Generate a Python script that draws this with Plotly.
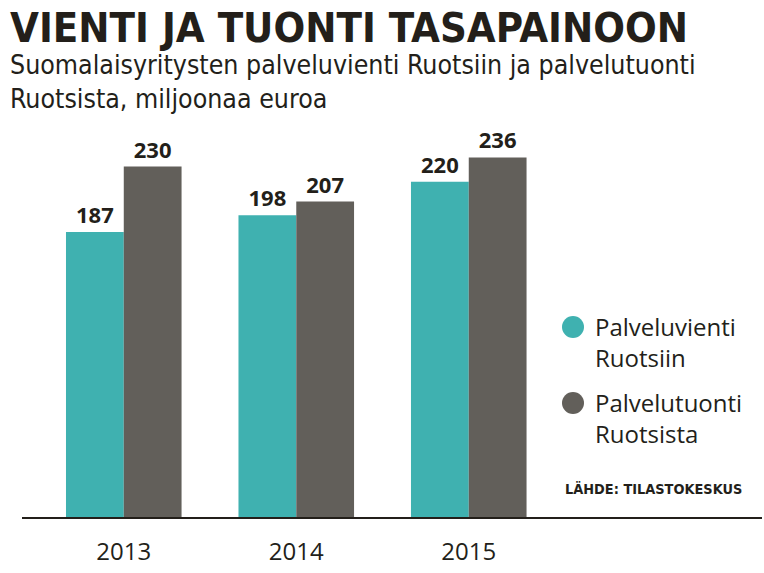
import plotly.graph_objects as go

# data
years = ["2013", "2014", "2015"]
vienti = [187, 198, 220]
tuonti = [230, 207, 236]
series_names = ["Palveluvienti<br>Ruotsiin", "Palvelutuonti<br>Ruotsista"]
series_colors = ["#3fb1b0", "#625f5a"]

title_text = "VIENTI JA TUONTI TASAPAINOON"
subtitle_text = "Suomalaisyritysten palveluvienti Ruotsiin ja palvelutuonti<br>Ruotsista, miljoonaa euroa"
source_text = "LÄHDE: TILASTOKESKUS"

INK = "#231f1a"
W, H = 764, 573
L, R, T, B = 22, 2, 130, 56


def px_x(px):
    # pixel -> paper x
    return (px - L) / (W - L - R)


def px_y(py):
    # pixel -> paper y
    return (H - B - py) / (H - T - B)


fig = go.Figure()

for vals, name, col in zip([vienti, tuonti], series_names, series_colors):
    fig.add_trace(go.Bar(
        x=years, y=vals, name=name.replace("<br>", " "),
        marker=dict(color=col, line=dict(width=0)),
        texttemplate="%{y}", textposition="outside",
        textfont=dict(family="Open Sans", size=22, color=INK, weight="bold"),
        cliponaxis=False, showlegend=False,
    ))

# hand-made legend with big round dots
legend_y = [327, 403]
for name, col, cy in zip(series_names, series_colors, legend_y):
    fig.add_shape(type="circle", xref="paper", yref="paper",
                  x0=px_x(562), x1=px_x(584), y0=px_y(cy + 11), y1=px_y(cy - 11),
                  fillcolor=col, line=dict(width=0))
    fig.add_annotation(x=px_x(593), y=px_y(cy - 19), xref="paper", yref="paper",
                       text=name, showarrow=False, xanchor="left", yanchor="top",
                       align="left",
                       font=dict(family="Open Sans", size=24, color=INK))

fig.add_annotation(x=px_x(8), y=px_y(1), xref="paper", yref="paper",
                   text=title_text, showarrow=False, xanchor="left", yanchor="top",
                   font=dict(family="DejaVu Sans Condensed", size=41.5, color=INK, weight="bold"))
fig.add_annotation(x=px_x(8), y=px_y(47), xref="paper", yref="paper",
                   text=subtitle_text, showarrow=False, xanchor="left", yanchor="top",
                   align="left",
                   font=dict(family="DejaVu Sans Condensed", size=26.5, color=INK))
fig.add_annotation(x=px_x(563), y=px_y(479), xref="paper", yref="paper",
                   text=source_text, showarrow=False, xanchor="left", yanchor="top",
                   font=dict(family="DejaVu Sans Condensed", size=14.4, color=INK, weight="bold"))

fig.update_layout(
    width=W, height=H,
    margin=dict(l=L, r=R, t=T, b=B),
    paper_bgcolor="white", plot_bgcolor="white",
    barmode="group", bargap=0.33, bargroupgap=0,
    showlegend=False,
    xaxis=dict(type="category", range=[-0.59, 3.70], showgrid=False,
               showline=True, linecolor=INK, linewidth=2,
               ticks="outside", ticklen=12, tickcolor="rgba(0,0,0,0)",
               tickfont=dict(family="Open Sans", size=24, color=INK)),
    yaxis=dict(visible=False, range=[0, 254], fixedrange=True),
)

fig.write_html("out.html", config={"displayModeBar": False},
               post_script="document.body.style.margin='0';")
